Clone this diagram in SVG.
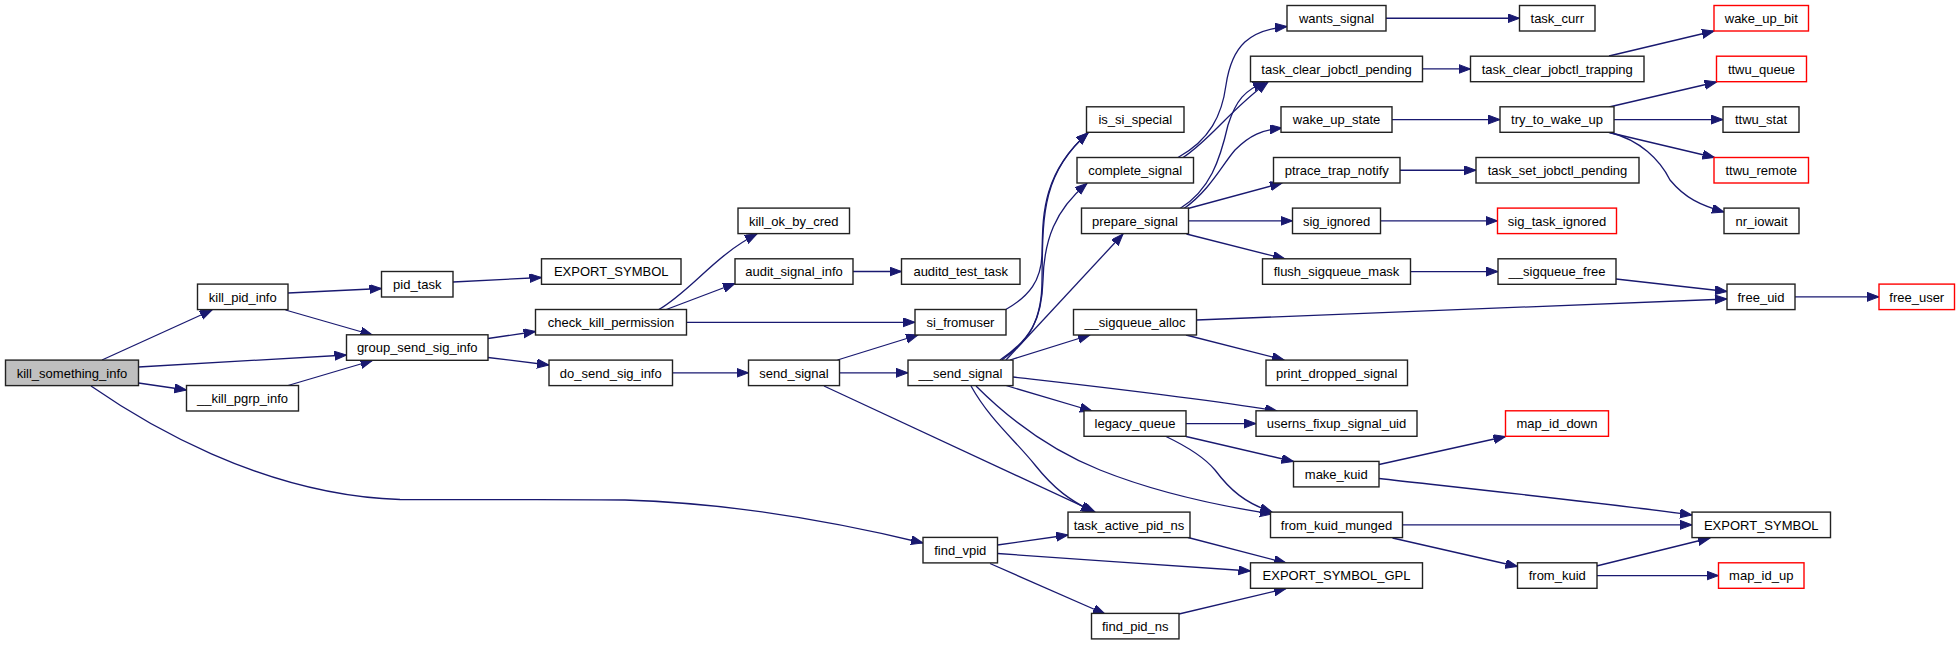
<svg xmlns="http://www.w3.org/2000/svg" width="1960" height="645" viewBox="0 0 1960 645">
<style>
.n rect{fill:#fff;stroke:#222;stroke-width:1.4}
.n.r rect{stroke:#ff0000}
.n.g rect{fill:#bfbfbf}
.n text{font-family:"Liberation Sans",Arial,sans-serif;font-size:13px;text-anchor:middle;fill:#000}
#edges path{fill:none;stroke:#191970;stroke-width:1.3;marker-end:url(#a)}
</style>
<defs>
<marker id="a" markerUnits="userSpaceOnUse" markerWidth="13" markerHeight="10" refX="12" refY="4.5" orient="auto">
<path d="M0,0 L12,4.5 L0,9 z" fill="#191970" stroke="#191970" stroke-width="1"/>
</marker>
</defs>
<rect width="1960" height="645" fill="#fff"/>
<g id="edges">
<path d="M102,360 L212,310"/>
<path d="M138.5,367 L346.5,355"/>
<path d="M138.5,383 L186.5,390"/>
<path d="M91,386 C140,420 260,495 400,499.5 C480,500 560,499 625,500 C730,503 840,523 923,543"/>
<path d="M288,293 L381.5,288.5"/>
<path d="M285.5,310 L372.5,335"/>
<path d="M288,385.5 L372.5,360.5"/>
<path d="M453,282 L541.5,277.5"/>
<path d="M488,338.5 L535.5,331.5"/>
<path d="M488,357.5 L549,365"/>
<path d="M658,310 C690,292 715,255 757,234"/>
<path d="M665,310 L735,283.5"/>
<path d="M686.5,322.3 L915,322.3"/>
<path d="M853,271.5 L901.5,271.5"/>
<path d="M672.5,372.8 L748.5,372.8"/>
<path d="M837.5,360 L918,335"/>
<path d="M839.5,372.8 L908,372.8"/>
<path d="M824,386 L1095,512"/>
<path d="M1005,310 C1030,296 1041,280 1042,255 C1043,220 1040,175 1088,133"/>
<path d="M1000,360 C1030,340 1042,320 1042,280 C1043,220 1040,175 1088,133"/>
<path d="M1002,360 C1030,340 1042,320 1043,280 C1044,240 1055,210 1087,183.5"/>
<path d="M1006,360 L1123,234"/>
<path d="M1010,360 L1090,335"/>
<path d="M1013,377 C1100,387 1200,398 1277,411"/>
<path d="M1006,385.5 L1092,411"/>
<path d="M971,386 C990,420 1015,440 1035,465 C1055,490 1070,500 1093,512"/>
<path d="M976,386 C1010,420 1050,450 1100,470 C1160,494 1220,506 1272,514"/>
<path d="M1178,157.5 C1210,140 1222,115 1226,85 C1232,45 1250,30 1287,26.5"/>
<path d="M1183,157.5 C1210,140 1230,110 1268,82"/>
<path d="M1180,208.5 C1210,190 1220,160 1228,125 C1236,100 1245,90 1265,82"/>
<path d="M1184,208.5 C1210,190 1222,165 1235,150 C1250,135 1262,130 1282,128"/>
<path d="M1188,208.5 L1282,183"/>
<path d="M1188.5,220.85 L1292.5,220.85"/>
<path d="M1186.5,234 L1285,259"/>
<path d="M1386,18.25 L1519.5,18.25"/>
<path d="M1422.5,68.95 L1470.5,68.95"/>
<path d="M1609,56 L1714,31"/>
<path d="M1392,119.55 L1500,119.55"/>
<path d="M1609,107 L1716.5,82"/>
<path d="M1614,119.55 L1723,119.55"/>
<path d="M1609,132.5 L1714.5,157.5"/>
<path d="M1610,132.5 C1640,140 1660,160 1670,180 C1685,198 1700,205 1724,212"/>
<path d="M1400,170.25 L1476,170.25"/>
<path d="M1380.5,220.85 L1497.5,220.85"/>
<path d="M1410.5,271.55 L1498,271.55"/>
<path d="M1616,279 L1727,291.5"/>
<path d="M1196.5,320 L1727,299"/>
<path d="M1186,335 L1284,360"/>
<path d="M1795,296.85 L1879,296.85"/>
<path d="M1186,423.55 L1256,423.55"/>
<path d="M1186,436.5 L1293.5,461.5"/>
<path d="M1166,436.5 C1190,448 1205,458 1215,470 C1230,490 1245,503 1272,512"/>
<path d="M1379,464.5 L1505.5,436.5"/>
<path d="M1379,478.5 C1500,492 1620,505 1692,515"/>
<path d="M1402.5,524.85 L1692,524.85"/>
<path d="M1392.5,538 L1517.5,566.5"/>
<path d="M1596.5,566 L1710,538"/>
<path d="M1597,575.55 L1718.5,575.55"/>
<path d="M997.5,545 L1068,535"/>
<path d="M997.5,553.5 C1080,559 1170,566 1250.5,571"/>
<path d="M990,563.5 L1105,614"/>
<path d="M1188,537.5 L1286,563"/>
<path d="M1179,614 L1286,588.5"/>
</g>
<g id="kill_something_info" class="n g"><rect x="5.5" y="360.1" width="133" height="25.5"/><text x="72" y="377.6">kill_something_info</text></g>
<g id="kill_pid_info" class="n"><rect x="197.5" y="284.1" width="90.5" height="25.5"/><text x="242.75" y="301.6">kill_pid_info</text></g>
<g id="__kill_pgrp_info" class="n"><rect x="186.5" y="385.5" width="112" height="25.5"/><text x="242.5" y="403">__kill_pgrp_info</text></g>
<g id="pid_task" class="n"><rect x="381.5" y="271.5" width="71.5" height="25.5"/><text x="417.25" y="289">pid_task</text></g>
<g id="group_send_sig_info" class="n"><rect x="346.5" y="334.8" width="141.5" height="25.5"/><text x="417.25" y="352.3">group_send_sig_info</text></g>
<g id="EXPORT_SYMBOL_1" class="n"><rect x="541.5" y="258.8" width="139.5" height="25.5"/><text x="611.25" y="276.3">EXPORT_SYMBOL</text></g>
<g id="check_kill_permission" class="n"><rect x="535.5" y="309.5" width="151" height="25.5"/><text x="611" y="327">check_kill_permission</text></g>
<g id="do_send_sig_info" class="n"><rect x="549" y="360.1" width="123.5" height="25.5"/><text x="610.75" y="377.6">do_send_sig_info</text></g>
<g id="kill_ok_by_cred" class="n"><rect x="738" y="208.1" width="111.5" height="25.5"/><text x="793.75" y="225.6">kill_ok_by_cred</text></g>
<g id="audit_signal_info" class="n"><rect x="735" y="258.8" width="118" height="25.5"/><text x="794" y="276.3">audit_signal_info</text></g>
<g id="send_signal" class="n"><rect x="748.5" y="360.1" width="91" height="25.5"/><text x="794" y="377.6">send_signal</text></g>
<g id="auditd_test_task" class="n"><rect x="901.5" y="258.8" width="118.5" height="25.5"/><text x="960.75" y="276.3">auditd_test_task</text></g>
<g id="si_fromuser" class="n"><rect x="915" y="309.5" width="91" height="25.5"/><text x="960.5" y="327">si_fromuser</text></g>
<g id="__send_signal" class="n"><rect x="908" y="360.1" width="105" height="25.5"/><text x="960.5" y="377.6">__send_signal</text></g>
<g id="find_vpid" class="n"><rect x="923" y="537.4" width="74.5" height="25.5"/><text x="960.25" y="554.9">find_vpid</text></g>
<g id="is_si_special" class="n"><rect x="1086.5" y="106.8" width="97.5" height="25.5"/><text x="1135.25" y="124.3">is_si_special</text></g>
<g id="complete_signal" class="n"><rect x="1077" y="157.5" width="116.5" height="25.5"/><text x="1135.25" y="175">complete_signal</text></g>
<g id="prepare_signal" class="n"><rect x="1081.5" y="208.1" width="107" height="25.5"/><text x="1135" y="225.6">prepare_signal</text></g>
<g id="__sigqueue_alloc" class="n"><rect x="1073.5" y="309.5" width="123" height="25.5"/><text x="1135" y="327">__sigqueue_alloc</text></g>
<g id="legacy_queue" class="n"><rect x="1084" y="410.8" width="102" height="25.5"/><text x="1135" y="428.3">legacy_queue</text></g>
<g id="task_active_pid_ns" class="n"><rect x="1068" y="512.1" width="122" height="25.5"/><text x="1129" y="529.6">task_active_pid_ns</text></g>
<g id="find_pid_ns" class="n"><rect x="1091.5" y="613.4" width="87.5" height="25.5"/><text x="1135.25" y="630.9">find_pid_ns</text></g>
<g id="wants_signal" class="n"><rect x="1287" y="5.5" width="99" height="25.5"/><text x="1336.5" y="23">wants_signal</text></g>
<g id="task_clear_jobctl_pending" class="n"><rect x="1250.5" y="56.2" width="172" height="25.5"/><text x="1336.5" y="73.7">task_clear_jobctl_pending</text></g>
<g id="wake_up_state" class="n"><rect x="1281" y="106.8" width="111" height="25.5"/><text x="1336.5" y="124.3">wake_up_state</text></g>
<g id="ptrace_trap_notify" class="n"><rect x="1273.5" y="157.5" width="126.5" height="25.5"/><text x="1336.75" y="175">ptrace_trap_notify</text></g>
<g id="sig_ignored" class="n"><rect x="1292.5" y="208.1" width="88" height="25.5"/><text x="1336.5" y="225.6">sig_ignored</text></g>
<g id="flush_sigqueue_mask" class="n"><rect x="1262.5" y="258.8" width="148" height="25.5"/><text x="1336.5" y="276.3">flush_sigqueue_mask</text></g>
<g id="print_dropped_signal" class="n"><rect x="1266" y="360.1" width="141.5" height="25.5"/><text x="1336.75" y="377.6">print_dropped_signal</text></g>
<g id="usersns_fixup_signal_uid" class="n"><rect x="1256" y="410.8" width="161" height="25.5"/><text x="1336.5" y="428.3">userns_fixup_signal_uid</text></g>
<g id="make_kuid" class="n"><rect x="1293.5" y="461.4" width="85.5" height="25.5"/><text x="1336.25" y="478.9">make_kuid</text></g>
<g id="from_kuid_munged" class="n"><rect x="1270.5" y="512.1" width="132" height="25.5"/><text x="1336.5" y="529.6">from_kuid_munged</text></g>
<g id="EXPORT_SYMBOL_GPL" class="n"><rect x="1250.5" y="562.8" width="172" height="25.5"/><text x="1336.5" y="580.3">EXPORT_SYMBOL_GPL</text></g>
<g id="task_curr" class="n"><rect x="1519.5" y="5.5" width="75.5" height="25.5"/><text x="1557.25" y="23">task_curr</text></g>
<g id="task_clear_jobctl_trapping" class="n"><rect x="1470.5" y="56.2" width="173.5" height="25.5"/><text x="1557.25" y="73.7">task_clear_jobctl_trapping</text></g>
<g id="try_to_wake_up" class="n"><rect x="1500" y="106.8" width="114" height="25.5"/><text x="1557" y="124.3">try_to_wake_up</text></g>
<g id="task_set_jobctl_pending" class="n"><rect x="1476" y="157.5" width="163" height="25.5"/><text x="1557.5" y="175">task_set_jobctl_pending</text></g>
<g id="sig_task_ignored" class="n r"><rect x="1497.5" y="208.1" width="119" height="25.5"/><text x="1557" y="225.6">sig_task_ignored</text></g>
<g id="__sigqueue_free" class="n"><rect x="1498" y="258.8" width="118" height="25.5"/><text x="1557" y="276.3">__sigqueue_free</text></g>
<g id="map_id_down" class="n r"><rect x="1505.5" y="410.8" width="103" height="25.5"/><text x="1557" y="428.3">map_id_down</text></g>
<g id="from_kuid" class="n"><rect x="1517.5" y="562.8" width="79.5" height="25.5"/><text x="1557.25" y="580.3">from_kuid</text></g>
<g id="wake_up_bit" class="n r"><rect x="1714" y="5.5" width="94.5" height="25.5"/><text x="1761.25" y="23">wake_up_bit</text></g>
<g id="ttwu_queue" class="n r"><rect x="1716.5" y="56.2" width="90" height="25.5"/><text x="1761.5" y="73.7">ttwu_queue</text></g>
<g id="ttwu_stat" class="n"><rect x="1723" y="106.8" width="76" height="25.5"/><text x="1761" y="124.3">ttwu_stat</text></g>
<g id="ttwu_remote" class="n r"><rect x="1714" y="157.5" width="94.5" height="25.5"/><text x="1761.25" y="175">ttwu_remote</text></g>
<g id="nr_iowait" class="n"><rect x="1724" y="208.1" width="75" height="25.5"/><text x="1761.5" y="225.6">nr_iowait</text></g>
<g id="free_uid" class="n"><rect x="1727" y="284.1" width="68" height="25.5"/><text x="1761" y="301.6">free_uid</text></g>
<g id="EXPORT_SYMBOL_2" class="n"><rect x="1692" y="512.1" width="138.5" height="25.5"/><text x="1761.25" y="529.6">EXPORT_SYMBOL</text></g>
<g id="map_id_up" class="n r"><rect x="1718.5" y="562.8" width="85.5" height="25.5"/><text x="1761.25" y="580.3">map_id_up</text></g>
<g id="free_user" class="n r"><rect x="1879" y="284.1" width="75.5" height="25.5"/><text x="1916.75" y="301.6">free_user</text></g>
</svg>
